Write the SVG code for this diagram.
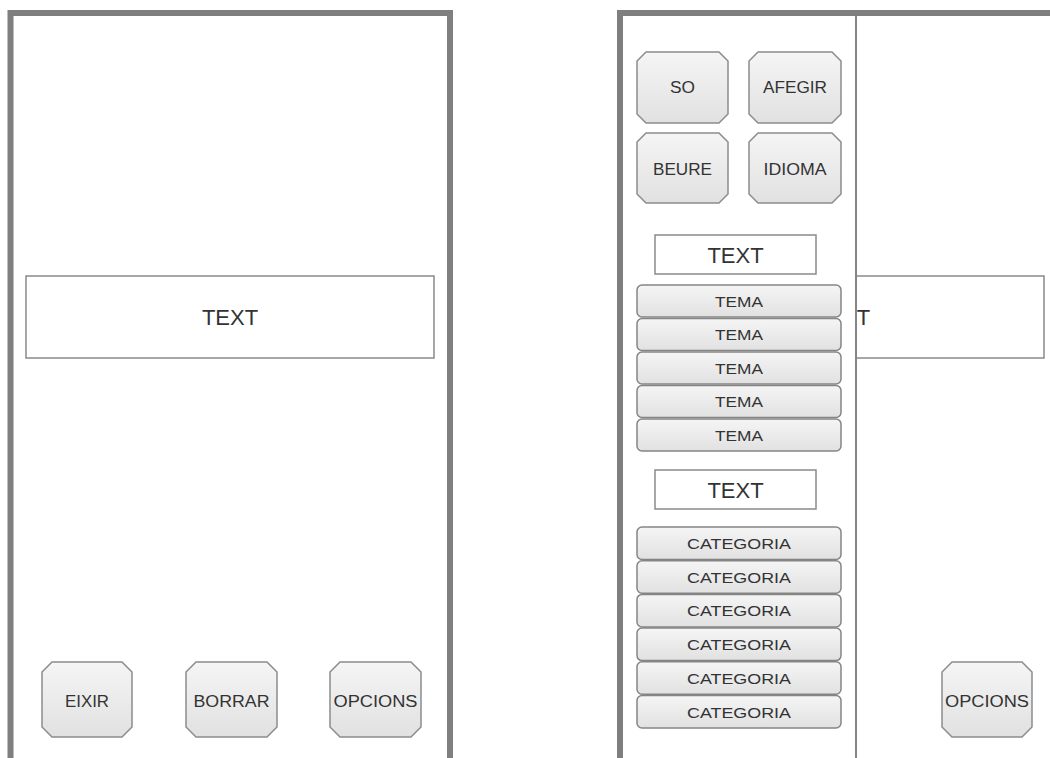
<svg xmlns="http://www.w3.org/2000/svg" width="1050" height="758" viewBox="0 0 1050 758">
  <defs>
    <linearGradient id="btnFill" x1="0" y1="0" x2="0" y2="1">
      <stop offset="0" stop-color="#f5f5f5"/>
      <stop offset="1" stop-color="#e1e1e1"/>
    </linearGradient>
    <style>
      .frame { fill: none; stroke: #7f7f7f; stroke-width: 6; }
      .box { fill: #ffffff; stroke: #8a8a8a; stroke-width: 1.5; }
      .btn { fill: url(#btnFill); stroke: #8c8c8c; stroke-width: 1.5; }
      .row { fill: url(#btnFill); stroke: #858585; stroke-width: 1.5; }
      .lbl { font-family: "Liberation Sans", Arial, sans-serif; fill: #333333; text-anchor: middle; }
      .big { font-size: 22px; }
      .mid { font-size: 16px; }
      .sm { font-size: 15px; }
    </style>
  </defs>

  <rect width="1050" height="758" fill="#ffffff"/>

  <!-- Screen 1: main view -->
  <g id="screen-main">
    <path class="frame" d="M10.5,770 V13 H450 V770"/>
    <g id="main-text">
      <rect class="box" x="26" y="276" width="408" height="82"/>
      <text class="lbl big" x="230" y="325">TEXT</text>
    </g>
    <g id="btn-eixir">
      <polygon class="btn" points="52,662 122,662 132,672 132,727 122,737 52,737 42,727 42,672"/>
      <text class="lbl mid" x="87" y="706.5" textLength="44" lengthAdjust="spacingAndGlyphs">EIXIR</text>
    </g>
    <g id="btn-borrar">
      <polygon class="btn" points="196,662 267,662 277,672 277,727 267,737 196,737 186,727 186,672"/>
      <text class="lbl mid" x="231.5" y="706.5" textLength="76" lengthAdjust="spacingAndGlyphs">BORRAR</text>
    </g>
    <g id="btn-opcions">
      <polygon class="btn" points="340,662 411,662 421,672 421,727 411,737 340,737 330,727 330,672"/>
      <text class="lbl mid" x="375.5" y="706.5" textLength="84" lengthAdjust="spacingAndGlyphs">OPCIONS</text>
    </g>
  </g>

  <!-- Screen 2: main view with side drawer open -->
  <g id="screen-drawer">
    <path class="frame" d="M620,770 V13 H1060"/>
    <g id="main-text-2">
      <rect class="box" x="636" y="276" width="408" height="82"/>
      <text class="lbl big" x="842" y="325">TEXT</text>
    </g>
    <g id="btn-opcions-2">
      <polygon class="btn" points="952,662 1022,662 1032,672 1032,727 1022,737 952,737 942,727 942,672"/>
      <text class="lbl mid" x="987" y="706.5" textLength="84" lengthAdjust="spacingAndGlyphs">OPCIONS</text>
    </g>

    <!-- drawer panel -->
    <g id="drawer">
      <rect x="623" y="16" width="233" height="760" fill="#ffffff"/>
      <line x1="856" y1="16" x2="856" y2="770" stroke="#858585" stroke-width="2"/>
    </g>

    <g id="btn-so">
      <polygon class="btn" points="646,52 719,52 728,61 728,114 719,123 646,123 637,114 637,61"/>
      <text class="lbl mid" x="682.5" y="92.5" textLength="25" lengthAdjust="spacingAndGlyphs">SO</text>
    </g>
    <g id="btn-afegir">
      <polygon class="btn" points="758,52 832,52 841,61 841,114 832,123 758,123 749,114 749,61"/>
      <text class="lbl mid" x="795" y="92.5" textLength="64" lengthAdjust="spacingAndGlyphs">AFEGIR</text>
    </g>
    <g id="btn-beure">
      <polygon class="btn" points="646,133 719,133 728,142 728,194 719,203 646,203 637,194 637,142"/>
      <text class="lbl mid" x="682.5" y="174.5" textLength="59" lengthAdjust="spacingAndGlyphs">BEURE</text>
    </g>
    <g id="btn-idioma">
      <polygon class="btn" points="758,133 832,133 841,142 841,194 832,203 758,203 749,194 749,142"/>
      <text class="lbl mid" x="795" y="174.5" textLength="63" lengthAdjust="spacingAndGlyphs">IDIOMA</text>
    </g>

    <g id="text-temes">
      <rect class="box" x="655" y="235" width="161" height="39"/>
      <text class="lbl big" x="735.5" y="262.5">TEXT</text>
    </g>

    <g id="tema-1">
      <rect class="row" x="637" y="285" width="204" height="32" rx="5"/>
      <text class="lbl sm" x="739" y="306.5" textLength="48" lengthAdjust="spacingAndGlyphs">TEMA</text>
    </g>
    <g id="tema-2">
      <rect class="row" x="637" y="318.5" width="204" height="32" rx="5"/>
      <text class="lbl sm" x="739" y="340" textLength="48" lengthAdjust="spacingAndGlyphs">TEMA</text>
    </g>
    <g id="tema-3">
      <rect class="row" x="637" y="352" width="204" height="32" rx="5"/>
      <text class="lbl sm" x="739" y="373.5" textLength="48" lengthAdjust="spacingAndGlyphs">TEMA</text>
    </g>
    <g id="tema-4">
      <rect class="row" x="637" y="385.5" width="204" height="32" rx="5"/>
      <text class="lbl sm" x="739" y="407" textLength="48" lengthAdjust="spacingAndGlyphs">TEMA</text>
    </g>
    <g id="tema-5">
      <rect class="row" x="637" y="419" width="204" height="32" rx="5"/>
      <text class="lbl sm" x="739" y="440.5" textLength="48" lengthAdjust="spacingAndGlyphs">TEMA</text>
    </g>

    <g id="text-categories">
      <rect class="box" x="655" y="470" width="161" height="39"/>
      <text class="lbl big" x="735.5" y="497.5">TEXT</text>
    </g>

    <g id="categoria-1">
      <rect class="row" x="637" y="527" width="204" height="32.5" rx="5"/>
      <text class="lbl sm" x="739" y="549" textLength="104" lengthAdjust="spacingAndGlyphs">CATEGORIA</text>
    </g>
    <g id="categoria-2">
      <rect class="row" x="637" y="560.7" width="204" height="32.5" rx="5"/>
      <text class="lbl sm" x="739" y="582.7" textLength="104" lengthAdjust="spacingAndGlyphs">CATEGORIA</text>
    </g>
    <g id="categoria-3">
      <rect class="row" x="637" y="594.4" width="204" height="32.5" rx="5"/>
      <text class="lbl sm" x="739" y="616.4" textLength="104" lengthAdjust="spacingAndGlyphs">CATEGORIA</text>
    </g>
    <g id="categoria-4">
      <rect class="row" x="637" y="628.1" width="204" height="32.5" rx="5"/>
      <text class="lbl sm" x="739" y="650.1" textLength="104" lengthAdjust="spacingAndGlyphs">CATEGORIA</text>
    </g>
    <g id="categoria-5">
      <rect class="row" x="637" y="661.8" width="204" height="32.5" rx="5"/>
      <text class="lbl sm" x="739" y="683.8" textLength="104" lengthAdjust="spacingAndGlyphs">CATEGORIA</text>
    </g>
    <g id="categoria-6">
      <rect class="row" x="637" y="695.5" width="204" height="32.5" rx="5"/>
      <text class="lbl sm" x="739" y="717.5" textLength="104" lengthAdjust="spacingAndGlyphs">CATEGORIA</text>
    </g>
  </g>

  <!-- no connectors in this wireframe -->
  <g id="connectors"/>
</svg>
